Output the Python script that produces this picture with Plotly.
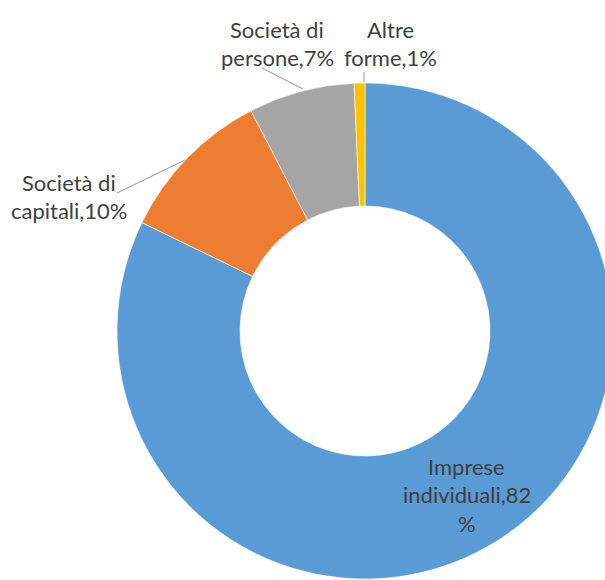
import plotly.graph_objects as go

labels = ["Imprese individuali", "Società di capitali", "Società di persone", "Altre forme"]
values = [82.2, 10.2, 6.9, 0.7]
pct_labels = ["82%", "10%", "7%", "1%"]
colors = ["#5B9BD5", "#ED7D31", "#A5A5A5", "#FFC000"]

# label text lines (as displayed, wrapped)
label_lines = [
    ["Imprese", "individuali,82", "%"],
    ["Società di", "capitali,10%"],
    ["Società di", "persone,7%"],
    ["Altre", "forme,1%"],
]

W, H = 620, 590
cx, cy, R = 365, 331, 248

fig = go.Figure(go.Pie(
    labels=labels, values=values, hole=0.504, sort=False, direction="clockwise",
    rotation=0, textinfo="none", hoverinfo="label+percent",
    marker=dict(colors=colors, line=dict(color="white", width=0.6)),
    domain=dict(x=[(cx - R) / W, (cx + R) / W], y=[1 - (cy + R) / H, 1 - (cy - R) / H]),
    showlegend=False,
))

# label anchor positions (pixel) per slice: center x, first line y
label_pos = [(467, 466), (69, 182), (277, 29), (390, 29)]
line_step = 28.5
annotations = []
for lines, (lx, ly) in zip(label_lines, label_pos):
    for i, t in enumerate(lines):
        annotations.append(dict(
            x=lx / W, y=1 - (ly + i * line_step) / H, xref="paper", yref="paper",
            text=t, showarrow=False, xanchor="center", yanchor="middle",
            font=dict(family="Lato", size=22, color="#404040"),
        ))

leaders = [((117, 193), (185, 160)), ((262, 68), (303, 89)), ((364, 72), (364, 82))]
shapes = []
for (x0, y0), (x1, y1) in leaders:
    shapes.append(dict(type="line", xref="paper", yref="paper",
                       x0=x0 / W, y0=1 - y0 / H, x1=x1 / W, y1=1 - y1 / H,
                       line=dict(color="#A6A6A6", width=1.2)))

fig.update_layout(
    width=W, height=H, margin=dict(l=0, r=0, t=0, b=0),
    paper_bgcolor="white", plot_bgcolor="white",
    annotations=annotations, shapes=shapes,
)

fig.write_html(
    "out.html",
    config={"displayModeBar": False},
    post_script="document.body.style.margin='0';document.body.style.overflow='hidden';"
                "document.documentElement.style.overflow='hidden';",
)
